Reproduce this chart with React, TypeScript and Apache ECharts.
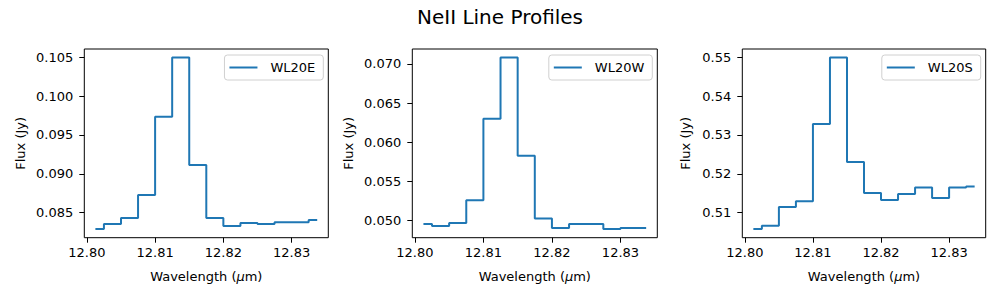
import React, { useEffect, useRef } from "react";
import * as echarts from "echarts";

const wavelengths = [
  12.80125, 12.80375, 12.80625, 12.80875, 12.81125, 12.81375, 12.81625,
  12.81875, 12.82125, 12.82375, 12.82625, 12.82875, 12.83125, 12.83375,
];
const fluxE = [
  0.08288, 0.08353, 0.0843, 0.08728, 0.09733, 0.10496, 0.09112, 0.0843,
  0.08327, 0.08366, 0.08353, 0.08378, 0.08378, 0.08404,
];
const fluxW = [
  0.04956, 0.04931, 0.04969, 0.05261, 0.06299, 0.07081, 0.05829, 0.05026,
  0.04905, 0.04956, 0.04956, 0.04892, 0.04905, 0.04905,
];
const fluxS = [
  0.50576, 0.50664, 0.51145, 0.51292, 0.53284, 0.54991, 0.52302, 0.51507,
  0.51326, 0.51481, 0.51647, 0.51378, 0.51647, 0.51672,
];
const seriesNames = ["WL20E", "WL20W", "WL20S"];
const xTicks = [12.8, 12.81, 12.82, 12.83];
const yTicksE = [0.085, 0.09, 0.095, 0.1, 0.105];
const yTicksW = [0.05, 0.055, 0.06, 0.065, 0.07];
const yTicksS = [0.51, 0.52, 0.53, 0.54, 0.55];

const FONT = "DejaVu Sans";
const COLOR = "#1f77b4";

function padRange(vals: number[]) {
  const lo = Math.min(...vals);
  const hi = Math.max(...vals);
  const p = (hi - lo) * 0.05;
  return [lo - p, hi + p];
}

export default function App() {
  const ref = useRef<HTMLDivElement>(null);
  useEffect(() => {
    if (!ref.current) return;
    const chart = echarts.init(ref.current, undefined, { renderer: "svg" });
    const panels = [
      { name: seriesNames[0], flux: fluxE, ticks: yTicksE, dec: 3, left: 84.3, width: 244, yGap: 57 },
      { name: seriesNames[1], flux: fluxW, ticks: yTicksW, dec: 3, left: 412.3, width: 245, yGap: 57 },
      { name: seriesNames[2], flux: fluxS, ticks: yTicksS, dec: 2, left: 742.3, width: 243.4, yGap: 50 },
    ];
    const xr = padRange(wavelengths);
    const top = 49;
    const height = 188.7;
    const textBase = { fontFamily: FONT, fontSize: 13, color: "#000" };
    chart.setOption({
      animation: false,
      title: {
        text: "NeII Line Profiles",
        left: "center",
        top: 2,
        textStyle: { fontFamily: FONT, fontSize: 20, fontWeight: "normal", color: "#000" },
      },
      grid: panels.map((p) => ({
        left: p.left,
        top,
        width: p.width,
        height,
        show: true,
        borderColor: "#000",
        borderWidth: 1,
        backgroundColor: "transparent",
      })),
      legend: panels.map((p) => ({
        data: [p.name],
        right: 1000 - (p.left + p.width) + 5,
        top: 55,
        orient: "vertical",
        icon: "rect",
        itemWidth: 28,
        itemHeight: 2,
        padding: [6, 8, 6, 5],
        borderColor: "#d0d0d0",
        borderWidth: 1,
        borderRadius: 3,
        backgroundColor: "rgba(255,255,255,0.8)",
        textStyle: { ...textBase, padding: [0, 0, 0, 8] },
      })),
      xAxis: panels.map((p, i) => ({
        type: "value",
        gridIndex: i,
        min: xr[0],
        max: xr[1],
        name: "Wavelength ({i|μ}m)",
        nameLocation: "middle",
        nameGap: 32,
        nameTextStyle: { ...textBase, rich: { i: { ...textBase, fontStyle: "italic" } } },
        axisLine: { show: false },
        axisTick: { show: true, length: 5, inside: false, customValues: xTicks, lineStyle: { color: "#000" } },
        axisLabel: {
          ...textBase,
          margin: 8,
          customValues: xTicks,
          formatter: (v: number) => v.toFixed(2),
        },
        splitLine: { show: false },
      })),
      yAxis: panels.map((p, i) => {
        const yr = padRange(p.flux);
        return {
          type: "value",
          gridIndex: i,
          min: yr[0],
          max: yr[1],
          name: "Flux (Jy)",
          nameLocation: "middle",
          nameGap: p.yGap,
          nameTextStyle: textBase,
          axisLine: { show: false },
          axisTick: { show: true, length: 5, customValues: p.ticks, lineStyle: { color: "#000" } },
          axisLabel: {
            ...textBase,
            margin: 11,
            customValues: p.ticks,
            formatter: (v: number) => v.toFixed(p.dec),
          },
          splitLine: { show: false },
        };
      }),
      series: panels.map((p, i) => ({
        type: "line",
        name: p.name,
        xAxisIndex: i,
        yAxisIndex: i,
        step: "middle",
        showSymbol: false,
        symbol: "none",
        color: COLOR,
        lineStyle: { color: COLOR, width: 2 },
        data: wavelengths.map((w, k) => [w, p.flux[k]]),
      })),
    });
    return () => chart.dispose();
  }, []);
  return (
    <div
      ref={ref}
      style={{ position: "absolute", left: 0, top: 0, width: 1000, height: 300, background: "#fff" }}
    />
  );
}
